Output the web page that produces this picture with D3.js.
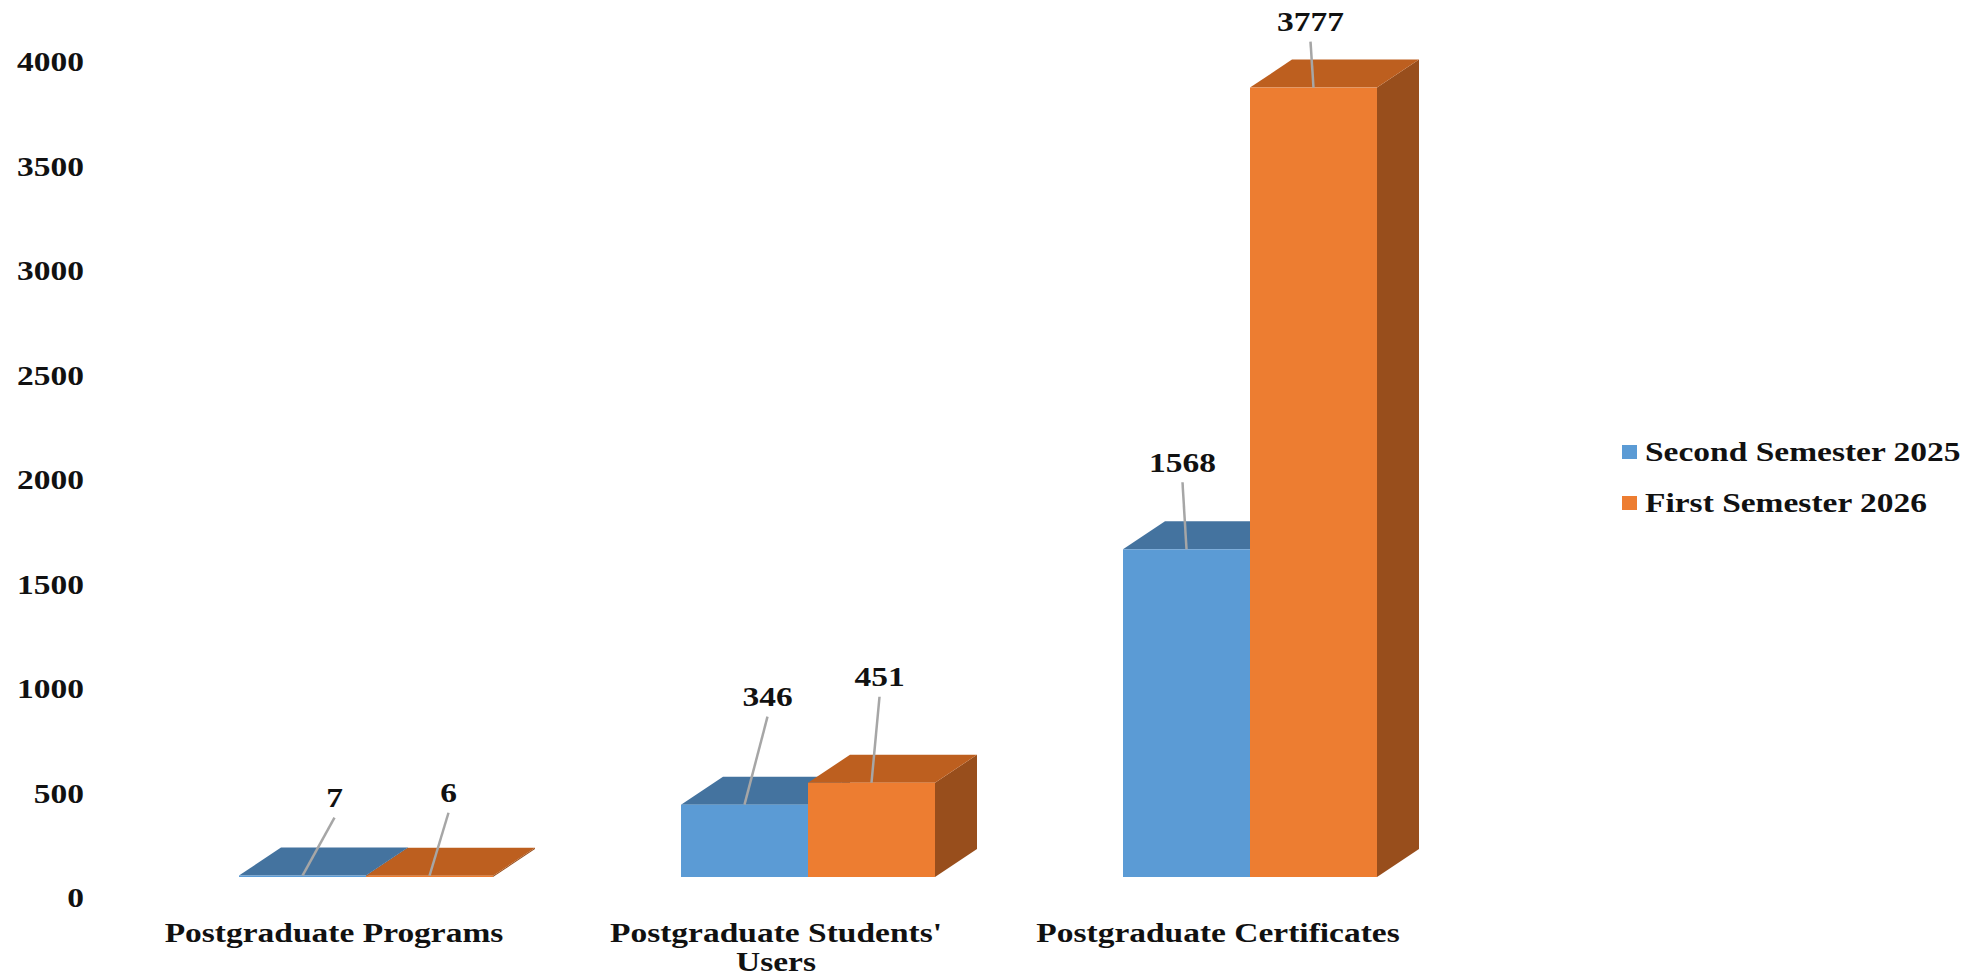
<!DOCTYPE html>
<html>
<head>
<meta charset="utf-8">
<script src="https://cdn.jsdelivr.net/npm/d3@7"></script>
<style>
  body { margin: 0; background: #fff; }
  svg { display: block; }
</style>
</head>
<body>
<script>
// chart data
const categories = ["Postgraduate Programs", "Postgraduate Students' Users", "Postgraduate Certificates"];
const categoryLines = [["Postgraduate Programs"], ["Postgraduate Students'", "Users"], ["Postgraduate Certificates"]];
const seriesNames = ["Second Semester 2025", "First Semester 2026"];
const secondSemester2025 = [7, 346, 1568];
const firstSemester2026 = [6, 451, 3777];
const yTicks = [0, 500, 1000, 1500, 2000, 2500, 3000, 3500, 4000];

// hand placed label offsets (from the middle of each bar's front top edge)
const labelOffsets = [
    [[32, -78], [23, -108], [-4, -87]],
    [[19, -83], [8, -106], [-3, -66]]
];

const W = 1977, H = 980;
const LIFT = 21;        // bar fronts sit a bit above the axis labels
const DX = 42, DY = 28; // 3d depth
const STRETCH = 1.24;   // text in the original is stretched sideways
const FONT = "'Liberation Serif', 'Times New Roman', serif";

const colors = {
    "Second Semester 2025": { front: "#5b9bd5", top: "#44739f", side: "#3a6690" },
    "First Semester 2026": { front: "#ed7d31", top: "#bd5f1f", side: "#984e1c" }
};

const svg = d3.select("body").append("svg")
    .attr("width", W)
    .attr("height", H);

svg.append("rect").attr("width", W).attr("height", H).attr("fill", "#fff");

const x = d3.scalePoint().domain(categories).range([366, 1250]);
const xs = d3.scaleBand().domain(seriesNames).range([-127, 127]);
const y = d3.scaleLinear().domain([0, 4000]).range([898, 62]);

const values = [secondSemester2025, firstSemester2026];
const bars = [];
categories.forEach((c, i) => {
    seriesNames.forEach((s, j) => {
        bars.push({ cat: c, series: s, value: values[j][i], i: i, j: j });
    });
});

// y axis labels
const yAxis = svg.append("g")
    .attr("transform", "translate(84,0)")
    .call(d3.axisLeft(y).tickValues(yTicks).tickFormat(d3.format("d")).tickSize(0).tickPadding(0))
    .call(g => g.select(".domain").remove())
    .attr("font-family", FONT)
    .attr("font-size", 27)
    .attr("font-weight", "bold");

yAxis.selectAll("text")
    .attr("fill", "#111")
    .attr("transform", `scale(${STRETCH},1)`);

// bars
const bar = svg.append("g").selectAll("g")
    .data(bars)
    .join("g");

const geo = d => {
    const x0 = x(d.cat) + xs(d.series);
    const x1 = x0 + xs.bandwidth();
    const yb = y(0) - LIFT;
    const yt = y(d.value) - LIFT;
    return { x0, x1, yb, yt };
};

bar.append("polygon")
    .attr("points", d => {
        const g = geo(d);
        return [[g.x1, g.yb], [g.x1 + DX, g.yb - DY], [g.x1 + DX, g.yt - DY], [g.x1, g.yt]].join(" ");
    })
    .attr("fill", d => colors[d.series].side);

bar.append("polygon")
    .attr("points", d => {
        const g = geo(d);
        return [[g.x0, g.yt], [g.x1, g.yt], [g.x1 + DX, g.yt - DY], [g.x0 + DX, g.yt - DY]].join(" ");
    })
    .attr("fill", d => colors[d.series].top);

bar.append("rect")
    .attr("x", d => geo(d).x0)
    .attr("y", d => geo(d).yt)
    .attr("width", xs.bandwidth())
    .attr("height", d => geo(d).yb - geo(d).yt)
    .attr("fill", d => colors[d.series].front);

// data labels with leader lines
const lab = svg.append("g").selectAll("g")
    .data(bars)
    .join("g");

lab.append("line")
    .attr("x1", d => (geo(d).x0 + geo(d).x1) / 2)
    .attr("y1", d => geo(d).yt)
    .attr("x2", d => (geo(d).x0 + geo(d).x1) / 2 + labelOffsets[d.j][d.i][0])
    .attr("y2", d => geo(d).yt + labelOffsets[d.j][d.i][1] + 20)
    .attr("stroke", "#a6a6a6")
    .attr("stroke-width", 2.5);

lab.append("text")
    .attr("transform", d => {
        const g = geo(d);
        const o = labelOffsets[d.j][d.i];
        return `translate(${(g.x0 + g.x1) / 2 + o[0]},${g.yt + o[1]}) scale(${STRETCH},1)`;
    })
    .attr("dy", "0.35em")
    .attr("text-anchor", "middle")
    .attr("font-family", FONT)
    .attr("font-size", 27)
    .attr("font-weight", "bold")
    .attr("fill", "#111")
    .text(d => d.value);

// category labels
const cat = svg.append("g").selectAll("g")
    .data(categories)
    .join("g");

cat.selectAll("text")
    .data((d, i) => categoryLines[i].map(t => ({ t: t, c: d })))
    .join("text")
    .attr("transform", (d, k) => `translate(${x(d.c) - 32},${942 + k * 29}) scale(${STRETCH},1)`)
    .attr("text-anchor", "middle")
    .attr("font-family", FONT)
    .attr("font-size", 27)
    .attr("font-weight", "bold")
    .attr("fill", "#111")
    .text(d => d.t);

// legend
const legend = svg.append("g").selectAll("g")
    .data(seriesNames)
    .join("g")
    .attr("transform", (d, i) => `translate(1622,${452 + i * 51})`);

legend.append("rect")
    .attr("x", 0)
    .attr("y", -7)
    .attr("width", 15)
    .attr("height", 14)
    .attr("fill", d => colors[d].front);

legend.append("text")
    .attr("transform", `translate(23,0) scale(${STRETCH},1)`)
    .attr("dy", "0.35em")
    .attr("font-family", FONT)
    .attr("font-size", 27)
    .attr("font-weight", "bold")
    .attr("fill", "#111")
    .text(d => d);
</script>
</body>
</html>
